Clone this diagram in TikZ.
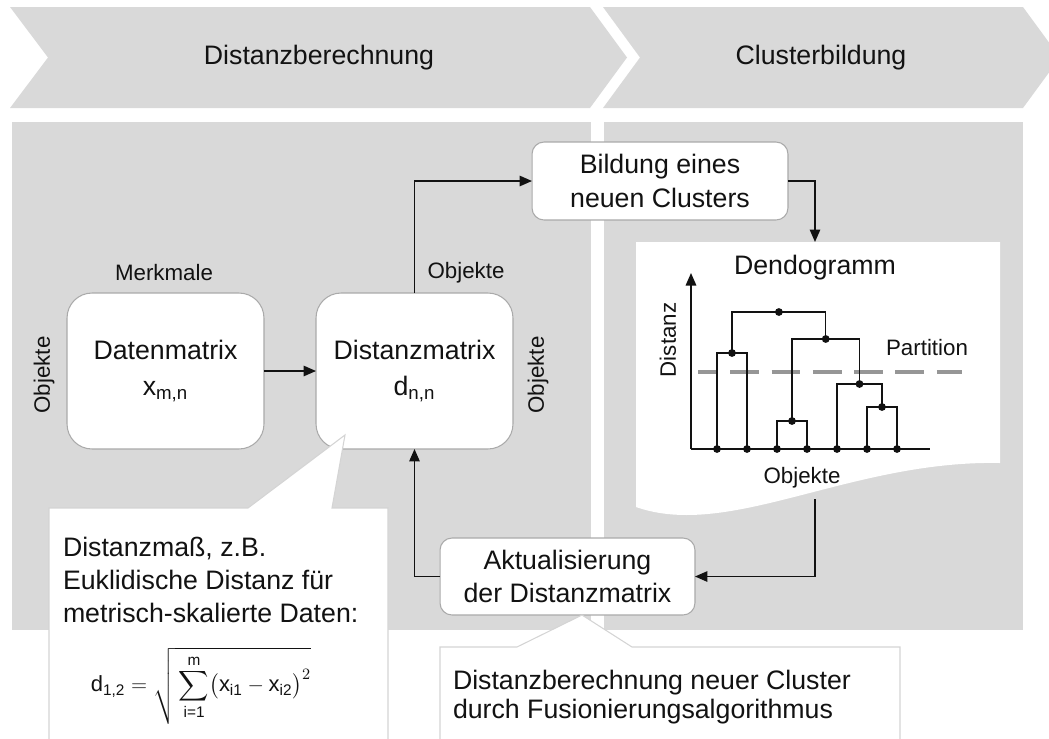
\documentclass[tikz,border=0pt]{standalone}
\usepackage{amsmath}
\usepackage{fontspec}
\setmainfont{Liberation Sans}
\usetikzlibrary{arrows.meta}

\definecolor{panel}{RGB}{217,217,217}
\definecolor{boxline}{RGB}{170,170,170}
\definecolor{callline}{RGB}{212,212,212}
\definecolor{dashgray}{RGB}{150,150,150}
\definecolor{ink}{RGB}{18,18,18}

\begin{document}
\begin{tikzpicture}[x=0.02cm,y=-0.02cm,
  font=\fontsize{15.2}{19}\selectfont,
  txt/.style={text=ink, inner sep=0pt, outer sep=0pt},
  small/.style={txt, font=\fontsize{12.7}{15}\selectfont},
  matbox/.style={draw=boxline, line width=0.6pt, fill=white, rounded corners=0.5cm,
    minimum width=3.94cm, minimum height=3.12cm, align=center, text=ink,
    inner sep=0pt, outer sep=0pt, font=\fontsize{15.2}{20.4}\selectfont},
  stepbox/.style={draw=boxline, line width=0.6pt, fill=white, rounded corners=0.24cm,
    align=center, text=ink, inner sep=0pt, outer sep=0pt},
  flow/.style={draw=ink, line width=0.85pt, -{Triangle[length=0.25cm,width=0.21cm]}},
  callout/.style={fill=white, draw=callline, line width=0.6pt},
  tree/.style={draw=ink, line width=0.8pt},
  knot/.style={fill=ink},
  ]
\useasboundingbox (0,0) rectangle (1049,738);
\clip (0,0) rectangle (1049,738);

% phase chevrons
\fill[panel] (10,7) -- (590,7) -- (627,57.5) -- (590,108) -- (10,108) -- (48,57.5) -- cycle;
\fill[panel] (603,7) -- (1023,7) -- (1060,57.5) -- (1023,108) -- (603,108) -- (640,57.5) -- cycle;
\node[txt] (phase1) at (319,57.5) {Distanzberechnung};
\node[txt] (phase2) at (821,57.5) {Clusterbildung};

% phase panels
\fill[panel] (12,122) rectangle (591,630);
\fill[panel] (604,122) rectangle (1023,630);

% dendrogram sheet with wavy lower edge
\fill[white] (636,242) -- (1000,242) -- (1000,463)
  .. controls (850,460) and (730,540) .. (636,507) -- cycle;
\node[txt] (dendo) at (815,268) {Dendogramm};
\node[small] (partition) at (927,348) {Partition};
\node[small] (objx) at (802,478) {Objekte};
\node[small, rotate=90] (disty) at (668,340) {Distanz};

% axes
\coordinate (origin) at (691,449);
\coordinate (ytip) at (691,273);
\coordinate (xend) at (930,449);
\draw[flow] (origin) -- (ytip);
\draw[draw=ink, line width=0.85pt] (origin) -- (xend);

% partition level
\draw[dashgray, line width=2.3pt, dash pattern=on 16.4pt off 7.1pt, dash phase=5.1pt]
  (698,372) -- (962,372);

% merge tree
\draw[tree] (717,449) -- (717,353) -- (747,353) -- (747,449);
\draw[tree] (777,449) -- (777,421) -- (807,421) -- (807,449);
\draw[tree] (867,449) -- (867,407) -- (897,407) -- (897,449);
\draw[tree] (837,449) -- (837,384) -- (882,384) -- (882,407);
\draw[tree] (792,421) -- (792,339) -- (859.5,339) -- (859.5,384);
\draw[tree] (732,353) -- (732,312) -- (825.75,312) -- (825.75,339);
\foreach \lx in {717,747,777,807,837,867,897}
  \fill[knot] (\lx,449) circle[radius=0.078cm];
\foreach \mx/\my in {732/353,792/421,882/407,859.5/384,825.75/339,778.9/312}
  \fill[knot] (\mx,\my) circle[radius=0.078cm];

% process boxes
\node[matbox] (dat) at (165.5,371) {Datenmatrix\\x$_{\text{m,n}}$};
\node[matbox] (dist) at (414.5,371) {Distanzmatrix\\d$_{\text{n,n}}$};
\node[stepbox, minimum width=5.12cm, minimum height=1.56cm] (bild) at (660,181)
  {Bildung eines\\neuen Clusters};
\node[stepbox, minimum width=5.1cm, minimum height=1.54cm] (akt) at (567.5,576.5)
  {Aktualisierung\\der Distanzmatrix};

% matrix axis labels
\node[small] (merk) at (164,273) {Merkmale};
\node[small] (objt) at (466,273) {Objekte};
\node[small, rotate=90] (objl) at (44,375) {Objekte};
\node[small, rotate=90] (objr) at (538,375) {Objekte};

% flow
\coordinate (ptop) at (815,242);
\coordinate (pbot) at (815,499);
\draw[flow] (dat) -- (dist);
\draw[flow] (dist.north) |- (bild.west);
\draw[flow] (bild.east) -| (ptop);
\draw[flow] (pbot) |- (akt.east);
\draw[flow] (akt.west) -| (dist.south);

% note on the distance measure
\draw[callout] (49,508) -- (248,508) -- (345,435) -- (332,508) -- (388,508)
  -- (388,760) -- (49,760) -- cycle;
\node[txt, anchor=north west, align=left, font=\fontsize{15.2}{18.7}\selectfont]
  (c1text) at (63,537)
  {Distanzmaß, z.B.\\Euklidische Distanz für\\metrisch-skalierte Daten:};
\node[txt, font=\fontsize{12.5}{15}\selectfont] (formula) at (201,686)
  {$\text{d}_{\text{1,2}} = \sqrt{\,\displaystyle\sum_{\text{i=1}}^{\text{m}}
    \bigl(\text{x}_{\text{i1}} - \text{x}_{\text{i2}}\bigr)^{2}}$};

% note on the update step
\draw[callout] (440,647) -- (517,647) -- (582,615) -- (632,647) -- (900,647)
  -- (900,760) -- (440,760) -- cycle;
\node[txt, anchor=north west, align=left, font=\fontsize{15.2}{16.5}\selectfont]
  (c2text) at (453,670)
  {Distanzberechnung neuer Cluster\\durch Fusionierungsalgorithmus};
\end{tikzpicture}
\end{document}
